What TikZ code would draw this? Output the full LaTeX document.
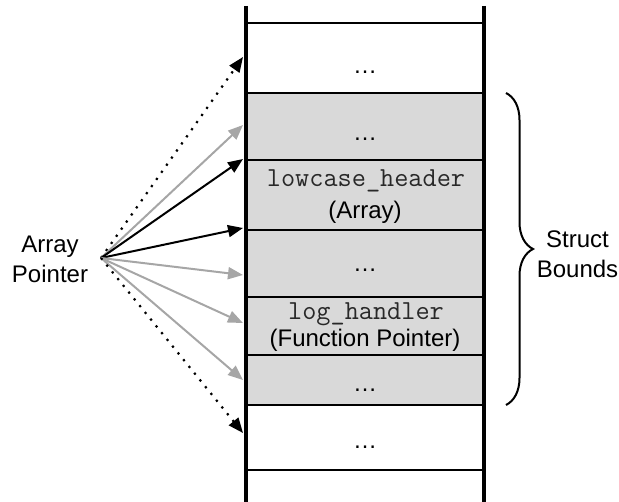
\documentclass[tikz,border=0pt]{standalone}
\usepackage{fontspec}
\setmainfont{Liberation Sans}
\usetikzlibrary{arrows.meta,decorations.pathreplacing}
\definecolor{cellgray}{RGB}{217,217,217}
\definecolor{ptrgray}{RGB}{166,166,166}
\definecolor{codeink}{RGB}{40,40,40}
\begin{document}
\begin{tikzpicture}[x=1pt,y=-1pt,
  cell/.style={draw=black, line width=2.5pt, rectangle, inner sep=0pt, minimum width=238pt},
  field/.style={cell, fill=cellgray},
  lbl/.style={anchor=base, inner sep=0pt, font=\fontsize{24}{30}\selectfont},
  code/.style={anchor=base, inner sep=0pt, text=codeink, font=\fontsize{27.5}{30}\selectfont\ttfamily},
  rail/.style={line width=4pt},
  ptr/.style={line width=2pt, -{Triangle[length=15pt,width=12pt]}},
  ptrlight/.style={ptr, draw=ptrgray, -{Triangle[length=15pt,width=12pt,fill=ptrgray]}},
  ptrout/.style={ptr, line width=2.2pt, dash pattern=on 2.2pt off 6.5pt}
]
\useasboundingbox (0,0) rectangle (619,502);

% memory cells, top to bottom
\node[cell, minimum height=70pt]  (c0) at (365,58)    {};
\node[field, minimum height=67pt] (c1) at (365,126.5) {};
\node[field, minimum height=70pt] (c2) at (365,195)   {};
\node[field, minimum height=67pt] (c3) at (365,263.5) {};
\node[field, minimum height=58pt] (c4) at (365,326)   {};
\node[field, minimum height=50pt] (c5) at (365,380)   {};
\node[cell, minimum height=65pt]  (c6) at (365,437.5) {};

% memory column walls
\coordinate (wl0) at (246,6);   \coordinate (wl1) at (246,502);
\coordinate (wr0) at (484,6);   \coordinate (wr1) at (484,502);
\draw[rail] (wl0) -- (wl1);
\draw[rail] (wr0) -- (wr1);

% cell contents
\node[lbl]  (t0)  at (365,74)  {…};
\node[lbl]  (t1)  at (365,141) {…};
\node[code] (t2a) at (366,187) {lowcase\_header};
\node[lbl]  (t2b) at (365,219) {(Array)};
\node[lbl]  (t3)  at (365,272) {…};
\node[code] (t4a) at (366,320) {log\_handler};
\node[lbl]  (t4b) at (365,347) {(Function Pointer)};
\node[lbl]  (t5)  at (365,391.5) {…};
\node[lbl]  (t6)  at (365,449) {…};

% pointer label and origin
\node[lbl] (ap1) at (50,253) {Array};
\node[lbl] (ap2) at (50,283) {Pointer};
\coordinate (src) at (101,258);

% pointer targets along the left wall
\coordinate (p1) at (243,57);
\coordinate (p2) at (243,125);
\coordinate (p3) at (243,159);
\coordinate (p4) at (243,228);
\coordinate (p5) at (243,275);
\coordinate (p6) at (243,323);
\coordinate (p7) at (243,380);
\coordinate (p8) at (243,433);

\draw[ptrout] (src) -- (p1);
\draw[ptrlight] (src) -- (p2);
\draw[ptr] (src) -- (p3);
\draw[ptr] (src) -- (p4);
\draw[ptrlight] (src) -- (p5);
\draw[ptrlight] (src) -- (p6);
\draw[ptrlight] (src) -- (p7);
\draw[ptrout] (src) -- (p8);

% struct extent
\coordinate (b0) at (506,93);
\coordinate (b1) at (506,405);
\draw[line width=2pt, decorate, decoration={brace, amplitude=27pt}] (b0) -- (b1);
\node[lbl] (sb1) at (577.5,247.5) {Struct};
\node[lbl] (sb2) at (577.5,277.5) {Bounds};
\end{tikzpicture}
\end{document}
